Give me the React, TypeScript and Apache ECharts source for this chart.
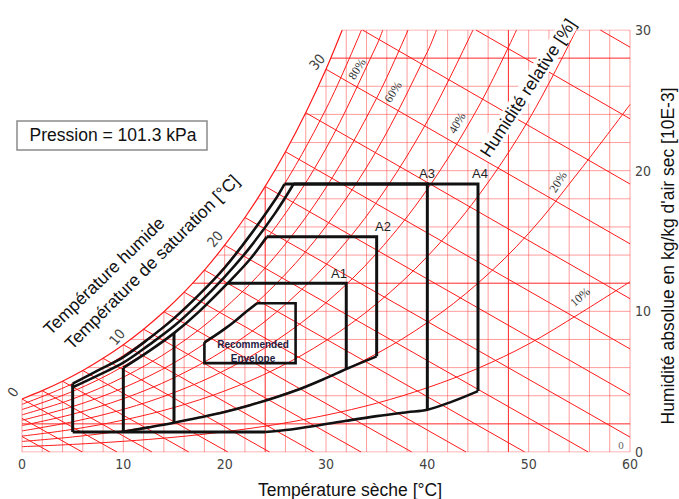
import React, { useEffect, useRef } from "react";
import * as echarts from "echarts";

// ---------- axis ticks ----------
const xTicks = [0, 10, 20, 30, 40, 50, 60];
const yTicks = [0, 10, 20, 30];

// ---------- saturation curve (dry bulb °C, humidity g/kg) ----------
const satT = [0, 2, 4, 6, 8, 10, 12, 14, 16, 18, 20, 22, 24, 26, 28, 30, 31.6];
const satW = [3.77, 4.36, 5.03, 5.79, 6.66, 7.63, 8.73, 9.97, 11.36, 12.93, 14.7, 16.67, 18.88, 21.35, 24.12, 27.21, 30];

// ---------- red grid ----------
const gridT = [0, 2, 4, 6, 8, 10, 12, 14, 16, 18, 20, 22, 24, 26, 28, 30, 32, 34, 36, 38, 40, 42, 44, 46, 48, 50, 52, 54, 56, 58, 60];
const gridTTop = [3.77, 4.36, 5.03, 5.79, 6.66, 7.63, 8.73, 9.97, 11.36, 12.93, 14.7, 16.67, 18.88, 21.35, 24.12, 27.21, 30, 30, 30, 30, 30, 30, 30, 30, 30, 30, 30, 30, 30, 30, 30];
const gridW = [0, 2, 4, 6, 8, 10, 12, 14, 16, 18, 20, 22, 24, 26, 28, 30];
const gridWStart = [0, 0, 0.78, 6.48, 10.67, 14.04, 16.82, 19.21, 21.32, 23.2, 24.91, 26.47, 27.91, 29.22, 30.46, 31.6];
const strongT = [24, 48];
const strongW = [2, 12, 28];

// ---------- relative humidity curves ----------
const rh10 = [[0, 0.38], [5, 0.54], [10, 0.76], [15, 1.05], [20, 1.44], [25, 1.95], [30, 2.62], [35, 3.47], [40, 4.57], [45, 5.95], [50, 7.68], [55, 9.83], [60, 12.1]];
const rh20 = [[0, 0.75], [5, 1.07], [10, 1.51], [15, 2.1], [20, 2.89], [25, 3.92], [30, 5.26], [35, 6.99], [40, 9.2], [45, 12.0], [50, 15.54], [55, 19.97], [60, 24.7]];
const rh30 = [[0, 1.13], [5, 1.61], [10, 2.27], [15, 3.16], [20, 4.34], [25, 5.89], [30, 7.92], [35, 10.54], [40, 13.9], [45, 18.18], [50, 23.61], [54.7, 30]];
const rh40 = [[0, 1.5], [5, 2.15], [10, 3.03], [15, 4.22], [20, 5.8], [25, 7.88], [30, 10.61], [35, 14.13], [40, 18.68], [45, 24.48], [48.8, 30]];
const rh50 = [[0, 1.88], [5, 2.69], [10, 3.79], [15, 5.28], [20, 7.26], [25, 9.88], [30, 13.31], [35, 17.77], [40, 23.52], [44.5, 30]];
const rh60 = [[0, 2.26], [5, 3.23], [10, 4.56], [15, 6.34], [20, 8.74], [25, 11.9], [30, 16.05], [35, 21.44], [40, 28.44], [40.9, 30]];
const rh70 = [[0, 2.64], [5, 3.77], [10, 5.32], [15, 7.41], [20, 10.22], [25, 13.92], [30, 18.8], [35, 25.16], [38.1, 30]];
const rh80 = [[0, 3.02], [5, 4.31], [10, 6.09], [15, 8.49], [20, 11.7], [25, 15.96], [30, 21.58], [35, 28.92], [35.6, 30]];
const rh90 = [[0, 3.39], [5, 4.86], [10, 6.86], [15, 9.57], [20, 13.2], [25, 18.02], [30, 24.38], [33.5, 30]];
const rhCurves = [rh10, rh20, rh30, rh40, rh50, rh60, rh70, rh80, rh90];

// ---------- wet bulb lines [tStart, wStart, tEnd, wEnd] ----------
const wetBulb = [
  [0, 1.1, 2.74, 0],
  [0, 2.39, 5.95, 0],
  [0, 3.77, 9.37, 0],
  [2, 4.36, 12.82, 0],
  [4, 5.03, 16.46, 0],
  [6, 5.79, 20.31, 0],
  [8, 6.66, 24.43, 0],
  [10, 7.63, 28.79, 0],
  [12, 8.73, 33.46, 0],
  [14, 9.97, 38.46, 0],
  [16, 11.36, 43.82, 0],
  [18, 12.93, 49.61, 0],
  [20, 14.7, 55.87, 0],
  [22, 16.67, 60, 1.06],
  [24, 18.88, 60, 4.07],
  [26, 21.35, 60, 7.33],
  [28, 24.12, 60, 10.9],
  [30, 27.21, 60, 14.8],
  [33.6, 30, 60, 19.05],
  [44.8, 30, 60, 23.69],
  [57.07, 30, 60, 28.78],
];

// ---------- ASHRAE envelopes ----------
const a4Upper = [[5, 4.86], [7.5, 5.8], [10, 6.75], [12.5, 8.05], [15, 9.5], [17.5, 11.2], [20, 13.1], [22.5, 15.4], [25, 17.95], [25.9, 19.05]];
const a3Upper = [[5, 4.6], [7.5, 5.45], [10, 6.35], [12.5, 7.6], [15, 8.95], [17.5, 10.6], [20, 12.45], [22.5, 14.55], [25, 17.0], [26.8, 19.05]];
const a2Upper = [[10, 5.98], [12.5, 7.15], [15, 8.45], [17.5, 10.0], [20.3, 12.0], [22.5, 13.7], [24.15, 15.3]];
const a34LowerFlat = [[5, 1.42], [24, 1.42]];
const a34LowerCurve = [[24, 1.42], [26, 1.56], [29, 1.87], [32, 2.22], [35, 2.55], [38, 2.83], [40, 3.0], [42.5, 3.6], [45, 4.33]];
const a12Lower = [[10, 1.44], [12.5, 1.75], [15, 2.08], [17.5, 2.45], [20, 2.85], [22.5, 3.33], [25, 3.88], [27.5, 4.5], [30, 5.25], [32, 5.9], [35, 6.8]];
const a4Box = [[5, 1.42], [5, 4.86]];
const a4Right = [[25.9, 19.05], [45, 19.05], [45, 4.33]];
const a3Right = [[26.8, 19.05], [40, 19.05], [40, 3.0]];
const a2Left = [[10, 1.44], [10, 5.98]];
const a2Right = [[24.15, 15.3], [35, 15.3], [35, 6.8]];
const a1Left = [[15, 2.08], [15, 8.45]];
const a1Right = [[20.3, 12.0], [32, 12.0], [32, 5.9]];
const recBox = [[18, 7.8], [18, 6.32], [27, 6.32], [27, 10.57], [23.2, 10.57]];
const recCurve = [[18, 7.8], [19, 8.25], [20, 8.75], [21, 9.3], [22, 9.9], [23.2, 10.57]];

const SANS = "'Liberation Sans', Arial, sans-serif";
const NARROW = "'Liberation Sans Narrow', 'Arial Narrow', 'DejaVu Sans Condensed', 'Liberation Sans', sans-serif";
const SERIF = "'Liberation Serif', 'DejaVu Serif', serif";

function lineSeries(data: number[][], color: string, width: number, z: number, smooth = false) {
  return {
    type: "line",
    data,
    symbol: "none",
    silent: true,
    smooth: smooth ? 0.35 : false,
    lineStyle: { color, width, join: "miter" },
    z,
  };
}

function txt(text: string, x: number, y: number, rotDeg: number, size: number, family: string, fill = "#222", weight = "normal", bg?: string) {
  const style: any = {
    text,
    fontSize: size,
    fontFamily: family,
    fontWeight: weight,
    fill,
    align: "center",
    verticalAlign: "middle",
  };
  if (bg) {
    style.backgroundColor = bg;
    style.padding = [0, 3];
  }
  return {
    type: "text",
    x,
    y,
    rotation: (rotDeg * Math.PI) / 180,
    silent: true,
    z: 100,
    style,
  };
}

export default function App() {
  const ref = useRef<HTMLDivElement>(null);

  useEffect(() => {
    if (!ref.current) return;
    const chart = echarts.init(ref.current, undefined, { renderer: "svg" });

    const series: any[] = [];
    const gridLight = "rgba(255,60,60,0.5)";
    const gridStrong = "rgba(255,0,0,0.85)";

    gridT.forEach((t, i) => {
      series.push(lineSeries([[t, 0], [t, gridTTop[i]]], strongT.includes(t) ? gridStrong : gridLight, 1, 1));
    });
    gridW.forEach((w, i) => {
      series.push(lineSeries([[gridWStart[i], w], [60, w]], strongW.includes(w) ? gridStrong : gridLight, 1, 1));
    });
    wetBulb.forEach((l) => {
      series.push(lineSeries([[l[0], l[1]], [l[2], l[3]]], "#ff1a1a", 1, 2));
    });
    rhCurves.forEach((c) => {
      series.push(lineSeries(c, "#ff1a1a", 1, 2, true));
    });
    series.push(lineSeries(satT.map((t, i) => [t, satW[i]]), "#ff1a1a", 1.2, 2, true));

    const K = "#111";
    [a4Upper, a3Upper, a2Upper, a34LowerCurve, a12Lower, recCurve].forEach((c) =>
      series.push(lineSeries(c, K, 2.6, 5, true))
    );
    [a34LowerFlat, a4Box, a4Right, a3Right, a2Left, a2Right, a1Left, a1Right].forEach((c) =>
      series.push(lineSeries(c, K, 3, 5))
    );
    series.push(lineSeries(recBox, K, 2.6, 5));

    const elements: any[] = [
      {
        type: "rect",
        shape: { x: 17, y: 121, width: 190, height: 29 },
        style: { fill: "#fff", stroke: "#8a8a8a", lineWidth: 1.5 },
        z: 99,
      },
      txt("Pression = 101.3 kPa", 113, 135, 0, 17.5, SANS, "#111"),
      txt("Température humide", 104, 276, 44, 17.5, SANS, "#111"),
      txt("Température de saturation [°C]", 152, 262, 45, 17.5, SANS, "#111"),
      txt("Humidité relative [%]", 528, 88, 57, 17.5, SANS, "#111", "normal", "#fff"),
      txt("Humidité absolue en kg/kg d'air sec [10E-3]", 668, 256, 90, 17.5, SANS, "#111"),
      txt("Température sèche [°C]", 350, 490, 0, 17.5, SANS, "#111"),
      txt("0", 13, 392, 55, 14, NARROW, "#444"),
      txt("10", 117, 337, 50, 14, NARROW, "#444"),
      txt("20", 215, 239, 50, 14, NARROW, "#444"),
      txt("30", 317, 62, 50, 14, NARROW, "#444"),
      txt("80%", 357, 69, 58, 12, SERIF, "#333"),
      txt("60%", 393, 92, 58, 12, SERIF, "#333"),
      txt("40%", 457, 123, 60, 12, SERIF, "#333"),
      txt("20%", 558, 182, 58, 12, SERIF, "#333"),
      txt("10%", 580, 297, 42, 12, SERIF, "#333"),
      txt("0", 621, 445, 0, 11, SERIF, "#666"),
      txt("A1", 339, 273, 0, 13, SANS, "#222"),
      txt("A2", 383, 226, 0, 13, SANS, "#222"),
      txt("A3", 427, 173, 0, 13, SANS, "#222"),
      txt("A4", 480, 173, 0, 13, SANS, "#222"),
      txt("Recommended", 253, 344, 0, 10, SANS, "#1f2040", "bold"),
      txt("Envelope", 253, 358, 0, 10, SANS, "#1f2040", "bold"),
    ];

    chart.setOption({
      animation: false,
      backgroundColor: "#fff",
      grid: { left: 22, right: 49, top: 30, bottom: 47 },
      xAxis: {
        type: "value",
        min: xTicks[0],
        max: xTicks[xTicks.length - 1],
        interval: xTicks[1] - xTicks[0],
        axisLine: { show: false },
        axisTick: { show: false },
        splitLine: { show: false },
        axisLabel: { margin: 5, fontSize: 14, color: "#444", fontFamily: NARROW },
      },
      yAxis: {
        type: "value",
        position: "right",
        min: yTicks[0],
        max: yTicks[yTicks.length - 1],
        interval: yTicks[1] - yTicks[0],
        axisLine: { show: false },
        axisTick: { show: false },
        splitLine: { show: false },
        axisLabel: { margin: 5, fontSize: 14, color: "#444", fontFamily: NARROW },
      },
      series,
      graphic: { elements },
    });

    return () => chart.dispose();
  }, []);

  return (
    <div
      ref={ref}
      style={{ position: "fixed", left: 0, top: 0, width: 679, height: 499, background: "#fff" }}
    />
  );
}
